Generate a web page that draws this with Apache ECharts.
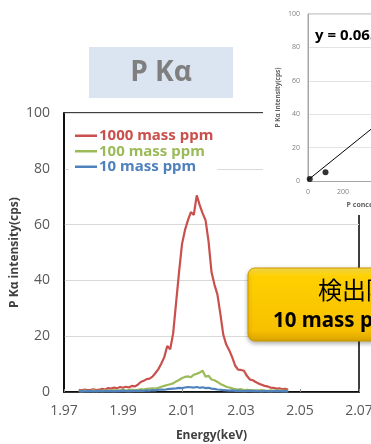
<!DOCTYPE html>
<html>
<head>
<meta charset="utf-8">
<script src="https://cdn.jsdelivr.net/npm/echarts@6/dist/echarts.min.js"></script>
<style>html,body{margin:0;padding:0;background:#fff;}#c{width:371px;height:444px;}</style>
</head>
<body>
<div id="c"></div>
<script>
// ---- data ----
const energy = [
  1.975,1.976,1.977,1.978,1.979,1.980,1.981,1.982,1.983,1.984,
  1.985,1.986,1.987,1.988,1.989,1.990,1.991,1.992,1.993,1.994,
  1.995,1.996,1.997,1.998,1.999,2.000,2.001,2.002,2.003,2.004,
  2.005,2.006,2.007,2.008,2.009,2.010,2.011,2.012,2.013,2.014,
  2.015,2.016,2.017,2.018,2.019,2.020,2.021,2.022,2.023,2.024,
  2.025,2.026,2.027,2.028,2.029,2.030,2.031,2.032,2.033,2.034,
  2.035,2.036,2.037,2.038,2.039,2.040,2.041,2.042,2.043,2.044,
  2.045,2.046
];
const ppm1000 = [
  0.8,0.6,0.9,0.7,0.8,1.0,0.7,0.9,1.1,0.9,
  1.4,1.2,1.6,1.3,1.8,1.5,1.9,1.6,2.2,2.0,
  2.6,3.6,4.0,4.6,4.8,5.5,6.8,8.2,10.2,12.5,
  16.5,15.3,21.0,32.0,43.0,53.0,58.0,61.5,64.5,63.5,
  70.5,67.0,64.0,61.5,54.0,43.0,38.5,35.0,28.0,20.5,
  17.0,15.0,12.5,9.5,8.0,7.9,7.6,5.8,4.5,4.2,
  3.6,3.0,2.6,2.2,2.0,1.6,1.5,1.2,1.3,1.0,
  1.1,0.9
];
const ppm100 = [
  0.4,0.3,0.5,0.3,0.4,0.6,0.3,0.5,0.4,0.6,
  0.4,0.5,0.7,0.4,0.6,0.8,0.5,0.7,0.9,0.6,
  0.8,1.0,0.9,1.1,1.2,1.3,1.2,1.5,1.9,2.2,
  2.5,2.8,3.1,3.8,4.3,5.0,5.4,5.6,5.3,6.2,
  6.5,7.0,7.6,5.5,5.8,4.5,4.2,3.6,2.9,2.4,
  1.9,1.6,1.3,1.0,0.9,1.0,0.7,0.8,0.6,0.7,
  0.5,0.6,0.7,0.5,0.4,0.6,0.5,0.4,0.6,0.5,
  0.4,0.5
];
const ppm10 = [
  0.2,0.3,0.2,0.4,0.3,0.2,0.3,0.4,0.2,0.3,
  0.4,0.3,0.2,0.4,0.3,0.5,0.3,0.4,0.3,0.5,
  0.4,0.5,0.4,0.6,0.5,0.7,0.6,0.8,0.9,0.8,
  1.0,1.1,1.2,1.3,1.5,1.4,1.6,1.8,1.7,1.6,
  1.8,1.5,1.7,1.4,1.5,1.2,1.1,0.9,0.8,0.7,
  0.6,0.5,0.6,0.4,0.5,0.4,0.3,0.4,0.5,0.3,
  0.4,0.3,0.2,0.4,0.3,0.2,0.3,0.4,0.3,0.2,
  0.3,0.2
];
const seriesNames = ['1000 mass ppm','100 mass ppm','10 mass ppm'];
const seriesColors = ['#c9504c','#9bbb59','#4f81bd'];
const energyMin = 1.97, energyMax = 2.07, energyStep = 0.02;
const intensityMax = 100, intensityStep = 20;

// inset calibration chart
const calibConc = [10, 100];
const calibIntensity = [1.2, 5.3];
const trendConc = [0, 1000];
const trendIntensity = [0.6, 85];
const insetConcMax = 1000, insetConcStep = 200;

// ---- build ----
const xy = (ys) => energy.map((e, i) => [+(e - energyMin).toFixed(4), ys[i]]);
const mainData = [ppm1000, ppm100, ppm10];

const chart = echarts.init(document.getElementById('c'), null, {renderer: 'canvas'});
const labelFont = 'Open Sans';

const option = {
  animation: false,
  backgroundColor: '#fff',
  grid: [
    {left: 64, top: 113, width: 295, height: 279, show: true, borderColor: '#000', borderWidth: 1.5, outerBoundsMode: 'none', containLabel: false},
    {left: 308, top: 14, width: 175, height: 167, outerBoundsMode: 'none', containLabel: false}
  ],
  legend: {
    orient: 'vertical', left: 69, top: 128, padding: [0, 4, 0, 6],
    backgroundColor: '#fff', itemWidth: 22, itemHeight: 2.5, itemGap: 0,
    icon: 'rect',
    textStyle: {fontFamily: 'Noto Sans', fontWeight: 'bold', fontSize: 15, lineHeight: 15.5, padding: [0, 0, 0, -3]},
    data: seriesNames.map((n, i) => ({name: n, textStyle: {color: seriesColors[i]}}))
  },
  xAxis: [
    {
      gridIndex: 0, type: 'value', min: 0, max: +(energyMax - energyMin).toFixed(2), interval: energyStep,
      axisLine: {lineStyle: {color: '#000', width: 1.5}},
      axisTick: {show: true, inside: true, length: 3, lineStyle: {color: '#888'}},
      splitLine: {show: false},
      axisLabel: {color: '#595959', fontSize: 14, fontFamily: labelFont, margin: 12,
        formatter: v => (v + energyMin).toFixed(2)},
      name: 'Energy(keV)', nameLocation: 'middle', nameGap: 38,
      nameTextStyle: {fontFamily: labelFont, fontWeight: 'bold', fontSize: 12, color: '#404040'}
    },
    {
      gridIndex: 1, type: 'value', min: 0, max: insetConcMax, interval: insetConcStep, z: 10,
      axisLine: {lineStyle: {color: '#a6a6a6', width: 1}},
      axisTick: {show: false},
      splitLine: {show: false},
      axisLabel: {color: '#808080', fontSize: 7, fontFamily: labelFont, margin: 7},
      name: 'P concentration (mass ppm)', nameLocation: 'middle', nameGap: 20,
      nameTextStyle: {fontFamily: labelFont, fontWeight: 'bold', fontSize: 7, color: '#606060'}
    }
  ],
  yAxis: [
    {
      gridIndex: 0, type: 'value', min: 0, max: intensityMax, interval: intensityStep,
      axisLine: {show: true, lineStyle: {color: '#000', width: 1.5}},
      axisTick: {show: false},
      splitLine: {show: true, lineStyle: {color: '#d9d9d9', width: 1}},
      axisLabel: {color: '#595959', fontSize: 14, fontFamily: labelFont, margin: 14},
      name: 'P Kα intensity(cps)', nameLocation: 'middle', nameGap: 43, nameMoveOverlap: false,
      nameTextStyle: {fontFamily: labelFont, fontWeight: 'bold', fontSize: 12, color: '#404040'}
    },
    {
      gridIndex: 1, type: 'value', min: 0, max: 100, interval: 20, z: 10,
      axisLine: {show: true, lineStyle: {color: '#a6a6a6', width: 1}},
      axisTick: {show: false},
      splitLine: {show: true, lineStyle: {color: '#e3e3e3', width: 1}},
      axisLabel: {color: '#808080', fontSize: 7, fontFamily: labelFont, margin: 8},
      name: 'P Kα intensity(cps)', nameLocation: 'middle', nameGap: 26,
      nameTextStyle: {fontFamily: labelFont, fontWeight: 'bold', fontSize: 6.5, color: '#606060'}
    }
  ],
  series: [
    ...mainData.map((ys, i) => ({
      name: seriesNames[i], type: 'line', xAxisIndex: 0, yAxisIndex: 0,
      data: xy(ys), showSymbol: false, symbol: 'none',
      lineStyle: {color: seriesColors[i], width: 2.2}, itemStyle: {color: seriesColors[i]}
    })),
    {
      type: 'line', xAxisIndex: 1, yAxisIndex: 1, z: 11,
      data: trendConc.map((c, i) => [c, trendIntensity[i]]),
      symbol: 'none', lineStyle: {color: '#000', width: 1}
    },
    {
      type: 'scatter', xAxisIndex: 1, yAxisIndex: 1, z: 12,
      data: calibConc.map((c, i) => [c, calibIntensity[i]]),
      symbolSize: 6, itemStyle: {color: '#000'}
    }
  ],
  graphic: [
    // inset background
    {type: 'rect', z: 5, shape: {x: 263, y: 0, width: 108, height: 215}, style: {fill: '#fff'}},
    {type: 'polyline', z: 9, shape: {points: [[308, 181], [308, 14], [371, 14]]}, style: {stroke: '#a6a6a6', lineWidth: 1, fill: null}},
    {type: 'text', z: 13, style: {text: 'y = 0.065x', x: 315, y: 36, font: 'bold 15px "Open Sans"', fill: '#000', verticalAlign: 'middle'}},
    // title box
    {type: 'rect', z: 5, shape: {x: 89, y: 47, width: 144, height: 51}, style: {fill: '#dbe5f1'}},
    {type: 'text', z: 6, style: {text: 'P Kα', x: 161, y: 73, font: 'bold 28px "Open Sans"', fill: '#7f7f7f', align: 'center', verticalAlign: 'middle'}},
    // yellow callout
    {type: 'rect', z: 20, shape: {x: 248, y: 268, width: 160, height: 73, r: 7},
      style: {
        fill: {type: 'linear', x: 0, y: 0, x2: 0, y2: 1, colorStops: [
          {offset: 0, color: '#ffe34d'}, {offset: 0.12, color: '#ffd000'},
          {offset: 0.85, color: '#f7c000'}, {offset: 1, color: '#d9a400'}]},
        stroke: '#c99700', lineWidth: 1, shadowBlur: 4, shadowOffsetY: 2, shadowColor: 'rgba(0,0,0,0.3)'
      }},
    {type: 'text', z: 21, style: {text: '検出限界', x: 318, y: 290, font: '24px "Noto Sans CJK JP"', fill: '#000', verticalAlign: 'middle'}},
    {type: 'text', z: 21, style: {text: '10 mass ppm', x: 273, y: 321, font: 'bold 20.5px "Noto Sans"', fill: '#000', verticalAlign: 'middle'}}
  ]
};
chart.setOption(option);
</script>
</body>
</html>
